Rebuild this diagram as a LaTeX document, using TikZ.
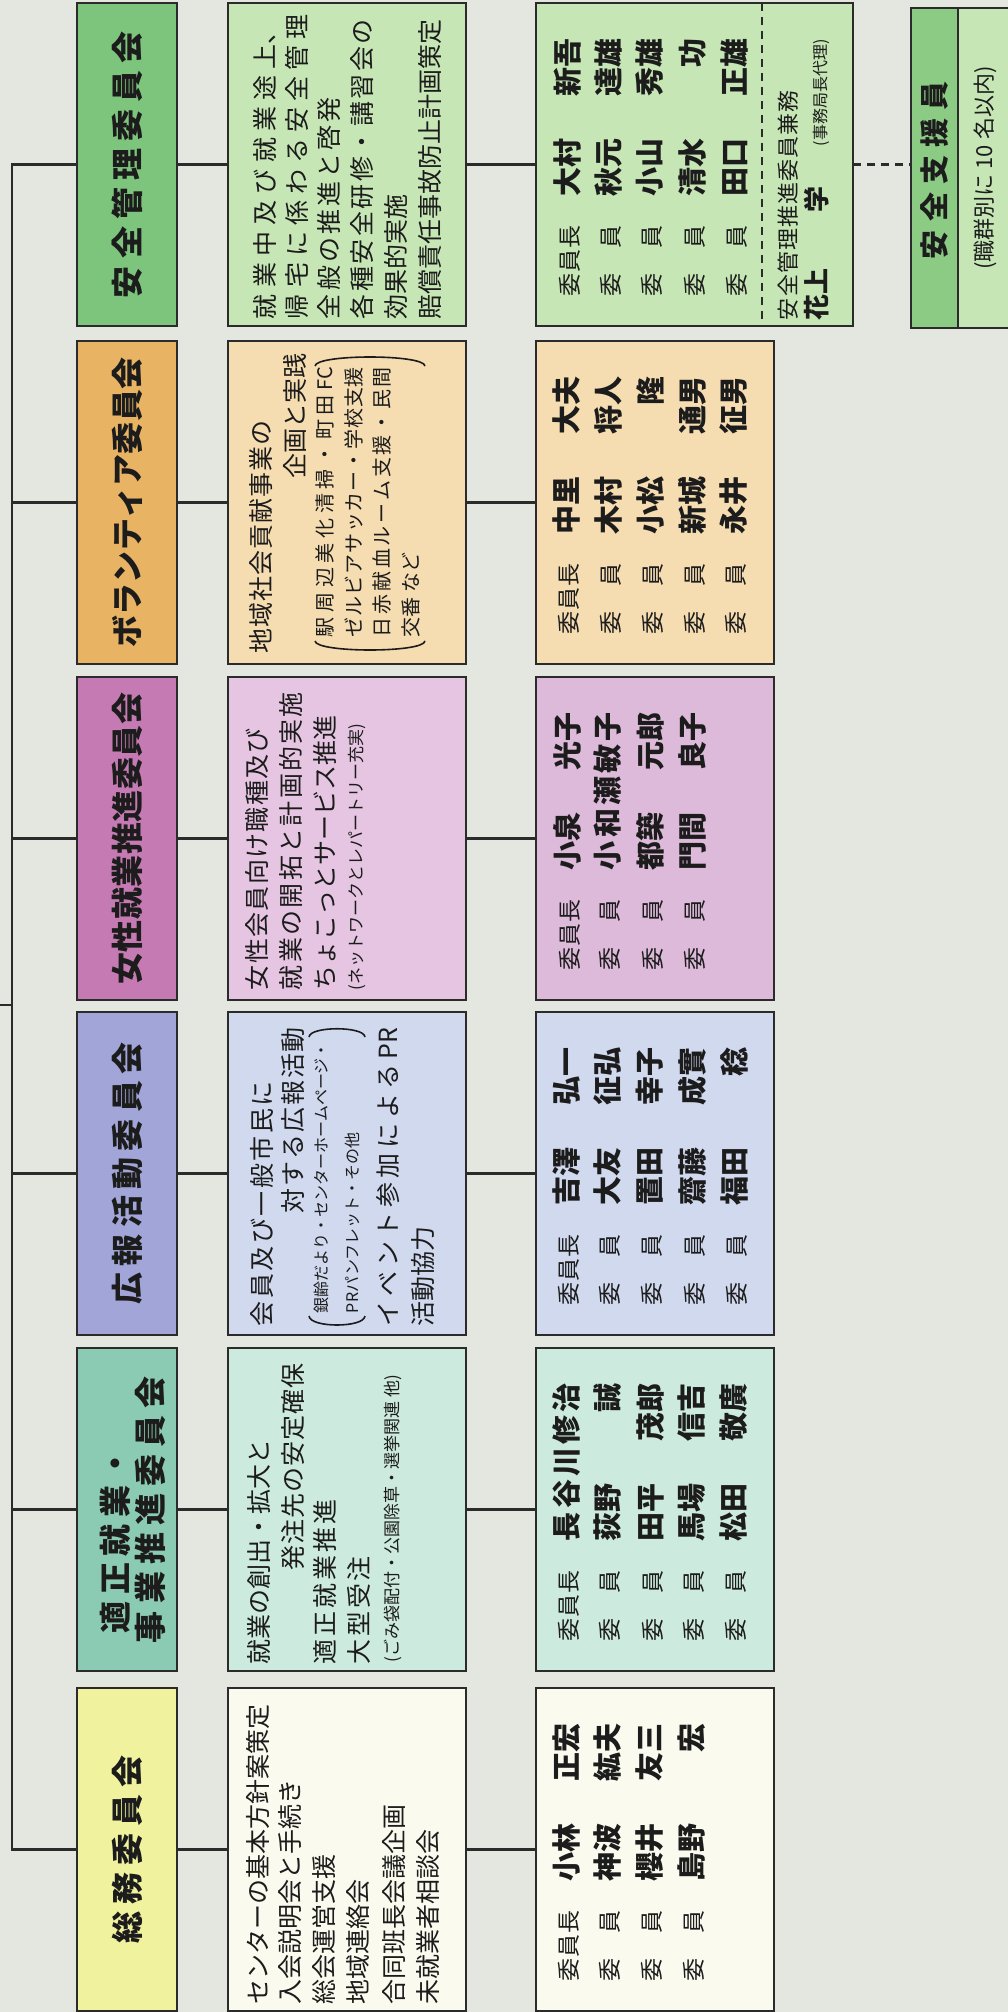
\documentclass[tikz,border=0pt]{standalone}
\usepackage{fontspec}
\setmainfont{Noto Sans CJK JP}
\definecolor{bg}{HTML}{E4E7E0}
\definecolor{ink}{HTML}{1C1C1C}
\definecolor{linec}{HTML}{2B2B2B}
\definecolor{safeT}{HTML}{7DC57C}
\definecolor{safeL}{HTML}{C6E6B5}
\definecolor{supD}{HTML}{8CCB84}
\definecolor{volT}{HTML}{E8B463}
\definecolor{volL}{HTML}{F5DCB1}
\definecolor{womT}{HTML}{C67AB3}
\definecolor{womL}{HTML}{E5C5E1}
\definecolor{womM}{HTML}{DDB9DA}
\definecolor{prT}{HTML}{A1A5D8}
\definecolor{prL}{HTML}{D1D9EF}
\definecolor{tekT}{HTML}{8CCBB3}
\definecolor{tekL}{HTML}{CCEADD}
\definecolor{somT}{HTML}{F1F29E}
\definecolor{somL}{HTML}{FAFBEE}
\newcommand\fTitle{\fontsize{32}{35}\selectfont\bfseries}
\newcommand\fDesc{\fontsize{25}{30}\selectfont}
\newcommand\fSm{\fontsize{17}{20}\selectfont}
\newcommand\fSmm{\fontsize{16}{20}\selectfont}
\newcommand\fVol{\fontsize{20}{24}\selectfont}
\newcommand\fRole{\fontsize{23}{28}\selectfont}
\newcommand\fName{\fontsize{29}{34}\selectfont\bfseries}
\newcommand\spr[2]{\makebox[#1][s]{\spaceskip=0pt plus 1fil\xspaceskip=0pt plus 1fil\relax #2}}
\newcommand\rolebox[1]{\makebox[71pt][s]{\fRole\spaceskip=0pt plus 1fil\relax #1}}
\tikzset{
  frame/.style={draw=linec, line width=2.5pt, rectangle, inner sep=0pt, outer sep=0pt, anchor=north west},
  conn/.style={draw=linec, line width=2.5pt},
  dconn/.style={draw=linec, line width=2.2pt, dash pattern=on 8pt off 6pt},
  bracket/.style={draw=ink, line width=1.6pt},
  ttl/.style={rotate=90, inner sep=0pt, outer sep=0pt, font=\fTitle, text=ink},
  dl/.style={rotate=90, anchor=west, inner sep=0pt, outer sep=0pt, font=\fDesc, text=ink},
  dle/.style={dl, anchor=east},
  ml/.style={rotate=90, anchor=west, inner sep=0pt, outer sep=0pt, text=ink},
}
\newcommand\bx[6]{\node[frame, fill=#2, minimum width=#5pt, minimum height=#6pt] (#1) at (#3,#4) {};}
\newcommand\mline[6]{\node[ml] (#1) at (#2,#3) {\rolebox{#4}\hspace{29pt}\makebox[158pt]{\fName #5\hfill #6}};}
\begin{document}
\begin{tikzpicture}[x=1pt,y=-1pt]
\useasboundingbox (0,0) rectangle (1008,2012);
\clip (0,0) rectangle (1008,2012);
\fill[bg] (0,0) rectangle (1008,2012);

% boxes
\bx{t1}{safeT}{77}{3}{100}{323}
\bx{d1}{safeL}{228}{3}{238}{323}
\bx{m1}{safeL}{536}{3}{317}{323}
\bx{t2}{volT}{77}{341}{100}{323}
\bx{d2}{volL}{228}{341}{238}{323}
\bx{m2}{volL}{536}{341}{238}{323}
\bx{t3}{womT}{77}{677}{100}{323}
\bx{d3}{womL}{228}{677}{238}{323}
\bx{m3}{womM}{536}{677}{238}{323}
\bx{t4}{prT}{77}{1012}{100}{323}
\bx{d4}{prL}{228}{1012}{238}{323}
\bx{m4}{prL}{536}{1012}{238}{323}
\bx{t5}{tekT}{77}{1348}{100}{323}
\bx{d5}{tekL}{228}{1348}{238}{323}
\bx{m5}{tekL}{536}{1348}{238}{323}
\bx{t6}{somT}{77}{1688}{100}{323}
\bx{d6}{somL}{228}{1688}{238}{323}
\bx{m6}{somL}{536}{1688}{238}{323}
\node[frame, fill=safeL, minimum width=112pt, minimum height=320pt] (sup) at (911,8) {};
\node[frame, fill=supD, minimum width=47pt, minimum height=320pt] (supL) at (911,8) {};

% connectors
\path (t6.west) ++(-65pt,0) coordinate (trunk);
\coordinate (parent) at (0,1005);
\draw[conn] (t1.west) -| (trunk) -- (t6.west);
\foreach \i in {2,...,5} {\draw[conn] (t\i.west) -- (t\i.west -| trunk);}
\draw[conn] (parent) -- (parent -| trunk);
\foreach \i in {1,...,6} {\draw[conn] (t\i.east) -- (d\i.west); \draw[conn] (d\i.east) -- (m\i.west);}
\draw[dconn] (m1.east) -- (m1.east -| sup.west);
\draw[dconn] ([xshift=226pt]m1.north west) -- ([xshift=226pt]m1.south west);

% titles
\node[ttl] (tt1) at (t1.center) {\spr{267pt}{安 全 管 理 委 員 会}};
\node[ttl] (tt2) at (t2.center) {\spr{290pt}{ボ ラ ン テ ィ ア 委 員 会}};
\node[ttl] (tt3) at (t3.center) {\spr{292pt}{女 性 就 業 推 進 委 員 会}};
\node[ttl] (tt4) at (t4.center) {\spr{262pt}{広 報 活 動 委 員 会}};
\node[ttl, align=left] (tt5) at ([xshift=6pt]t5.center) {\hspace*{10pt}\spr{186pt}{適 正 就 業 ・}\\\spr{267pt}{事 業 推 進 委 員 会}};
\node[ttl] (tt6) at (t6.center) {\spr{188pt}{総 務 委 員 会}};

% descriptions row 1
\node[dl] (d1a) at (265,319) {\spr{300pt}{就 業 中 及 び 就 業 途 上、}};
\node[dl] (d1b) at (297,319) {\spr{305pt}{帰 宅 に 係 わ る 安 全 管 理}};
\node[dl] (d1c) at (329,319) {\spr{222pt}{全 般 の 推 進 と 啓 発}};
\node[dl] (d1d) at (362,319) {\spr{300pt}{各 種 安 全 研 修 ・ 講 習 会 の}};
\node[dl] (d1e) at (396,319) {効果的実施};
\node[dl] (d1f) at (430,319) {賠償責任事故防止計画策定};
% row 2
\node[dl] (d2a) at (261,653) {\spr{233pt}{地 域 社 会 貢 献 事 業 の}};
\node[dle] (d2b) at (295,353) {企画と実践};
\node[dl,font=\fVol] (d2c) at (325,637) {\spr{270pt}{駅 周 辺 美 化 清 掃 ・ 町 田 FC}};
\node[dl,font=\fVol] (d2d) at (354,637) {\spr{270pt}{ゼ ル ビ ア サ ッ カ ー ・ 学 校 支 援}};
\node[dl,font=\fVol] (d2e) at (382,637) {\spr{270pt}{日 赤 献 血 ル ー ム 支 援 ・ 民 間}};
\node[dl,font=\fVol] (d2f) at (411,637) {交番 など};
\draw[bracket] (315,641) .. controls (316,653) and (424,653) .. (425,641);
\draw[bracket] (315,366) .. controls (316,354) and (424,354) .. (425,366);
% row 3
\node[dl] (d3a) at (257,990) {\spr{262pt}{女 性 会 員 向 け 職 種 及 び}};
\node[dl] (d3b) at (291,990) {\spr{298pt}{就 業 の 開 拓 と 計 画 的 実 施}};
\node[dl] (d3c) at (325,990) {\spr{265pt}{ち ょ こ っ と サ ー ビ ス 推 進}};
\node[dl,font=\fSm] (d3d) at (357,990) {(ネットワークとレパートリー充実)};
% row 4
\node[dl] (d4a) at (262,1326) {\spr{245pt}{会 員 及 び 一 般 市 民 に}};
\node[dle] (d4b) at (293,1027) {\spr{186pt}{対 す る 広 報 活 動}};
\node[dl,font=\fSmm] (d4c) at (321,1313) {銀齢だより・センターホームページ・};
\node[dl,font=\fSmm] (d4d) at (352,1313) {PRパンフレット・その他};
\node[dl] (d4e) at (388,1326) {\spr{298pt}{イ ベ ン ト 参 加 に よ る PR}};
\node[dl] (d4f) at (423,1326) {活動協力};
\draw[bracket] (309,1316) .. controls (310,1328) and (364,1328) .. (365,1316);
\draw[bracket] (309,1037) .. controls (310,1026) and (364,1026) .. (365,1037);
% row 5
\node[dl] (d5a) at (259,1664) {就業の創出・拡大と};
\node[dle] (d5b) at (293,1363) {\spr{207pt}{発 注 先 の 安 定 確 保}};
\node[dl] (d5c) at (325,1664) {\spr{165pt}{適 正 就 業 推 進}};
\node[dl] (d5d) at (359,1664) {\spr{108pt}{大 型 受 注}};
\node[dl,font=\fSm] (d5e) at (393,1662) {(ごみ袋配付・公園除草・選挙関連 他)};
% row 6
\node[dl] (d6a) at (258,2004) {センターの基本方針案策定};
\node[dl] (d6b) at (290,2004) {入会説明会と手続き};
\node[dl] (d6c) at (324,2004) {総会運営支援};
\node[dl] (d6d) at (358,2004) {地域連絡会};
\node[dl] (d6e) at (394,2004) {合同班長会議企画};
\node[dl] (d6f) at (428,2004) {未就業者相談会};

% members
\mline{n1a}{567}{296}{委 員 長}{大村}{新吾}
\mline{n1b}{608}{296}{委 員}{秋元}{達雄}
\mline{n1c}{650}{296}{委 員}{小山}{秀雄}
\mline{n1d}{692}{296}{委 員}{清水}{功}
\mline{n1e}{734}{296}{委 員}{田口}{正雄}
\node[ml, font=\fontsize{22}{26}\selectfont] (n1f) at (788,320) {\spr{230pt}{安 全 管 理 推 進 委 員 兼 務}};
\node[ml] (n1g) at (817,320) {{\fontsize{26}{30}\selectfont\bfseries 花上}\hspace{56pt}{\fontsize{26}{30}\selectfont\bfseries 学}\hspace{40pt}{\fontsize{16}{20}\selectfont (事務局長代理)}};

\mline{n2a}{567}{634}{委 員 長}{中里}{大夫}
\mline{n2b}{608}{634}{委 員}{木村}{将人}
\mline{n2c}{650}{634}{委 員}{小松}{隆}
\mline{n2d}{692}{634}{委 員}{新城}{通男}
\mline{n2e}{734}{634}{委 員}{永井}{征男}

\mline{n3a}{567}{970}{委 員 長}{小泉}{光子}
\mline{n3b}{608}{970}{委 員}{\spr{158pt}{小 和 瀬 敏 子}}{}
\mline{n3c}{650}{970}{委 員}{都築}{元郎}
\mline{n3d}{692}{970}{委 員}{門間}{良子}

\mline{n4a}{567}{1305}{委 員 長}{吉澤}{弘一}
\mline{n4b}{608}{1305}{委 員}{大友}{征弘}
\mline{n4c}{650}{1305}{委 員}{置田}{幸子}
\mline{n4d}{692}{1305}{委 員}{齋藤}{成實}
\mline{n4e}{734}{1305}{委 員}{福田}{稔}

\mline{n5a}{567}{1641}{委 員 長}{\spr{158pt}{長 谷 川 修 治}}{}
\mline{n5b}{608}{1641}{委 員}{荻野}{誠}
\mline{n5c}{650}{1641}{委 員}{田平}{茂郎}
\mline{n5d}{692}{1641}{委 員}{馬場}{信吉}
\mline{n5e}{734}{1641}{委 員}{松田}{敬廣}

\mline{n6a}{567}{1981}{委 員 長}{小林}{正宏}
\mline{n6b}{608}{1981}{委 員}{神波}{紘夫}
\mline{n6c}{650}{1981}{委 員}{櫻井}{友三}
\mline{n6d}{692}{1981}{委 員}{島野}{宏}

% support staff box
\node[rotate=90, inner sep=0pt, font=\fName, text=ink] (supT) at (934.5,170) {\spr{178pt}{安 全 支 援 員}};
\node[rotate=90, inner sep=0pt, font=\fontsize{22}{26}\selectfont, text=ink] (supN) at (985,168) {(職群別に 10 名以内)};
\end{tikzpicture}
\end{document}
